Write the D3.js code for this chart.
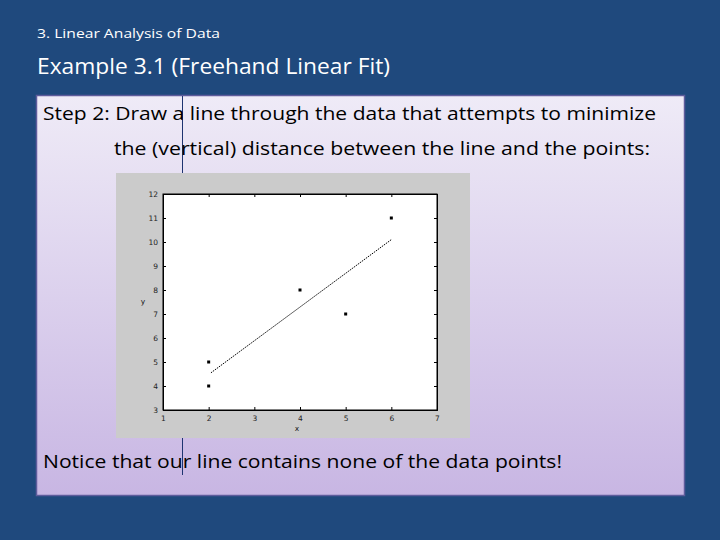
<!DOCTYPE html>
<html><head><meta charset="utf-8">
<script src="https://cdn.jsdelivr.net/npm/d3@7"></script>
<style>html,body{margin:0;padding:0;background:#1F497D;}svg{display:block;}</style>
</head><body>
<svg id="c" width="720" height="540"></svg>
<script>
const xValues = [2, 2, 4, 5, 6];
const yValues = [4, 5, 8, 7, 11];
const fitX = [2.05, 6.0];
const fitY = [4.55, 10.1];
const xTicks = [1, 2, 3, 4, 5, 6, 7];
const yTicks = [3, 4, 5, 6, 7, 8, 9, 10, 11, 12];

const svg = d3.select("#c");
const defs = svg.append("defs");
const g = defs.append("linearGradient").attr("id","bg").attr("x1",0).attr("y1",0).attr("x2",0).attr("y2",1);
g.append("stop").attr("offset","0%").attr("stop-color","#EFEBF7");
g.append("stop").attr("offset","100%").attr("stop-color","#C8B6E3");

svg.append("rect").attr("width",720).attr("height",540).attr("fill","#1F497D");

// header texts
svg.append("text").attr("x",37).attr("y",38).attr("font-family","Open Sans, sans-serif")
  .attr("font-size",13.5).attr("fill","#FFFFFF").attr("textLength",183).attr("lengthAdjust","spacingAndGlyphs")
  .text("3. Linear Analysis of Data");
svg.append("text").attr("x",37).attr("y",74).attr("font-family","Open Sans, sans-serif")
  .attr("font-size",21).attr("fill","#FFFFFF").attr("textLength",353).attr("lengthAdjust","spacingAndGlyphs")
  .text("Example 3.1 (Freehand Linear Fit)");

// content box
svg.append("rect").attr("x",36.5).attr("y",95.5).attr("width",648).attr("height",400)
  .attr("fill","url(#bg)").attr("stroke","#5E5C9C").attr("stroke-width",1.5);

// vertical table-border artifact line (behind the chart image)
svg.append("line").attr("x1",182.5).attr("y1",96).attr("x2",182.5).attr("y2",475)
  .attr("stroke","#1E3470").attr("stroke-width",1);

const bodyFont = "Open Sans, sans-serif";
svg.append("text").attr("x",43).attr("y",120).attr("font-family",bodyFont).attr("font-size",19)
  .attr("fill","#000").attr("textLength",613).attr("lengthAdjust","spacingAndGlyphs")
  .text("Step 2: Draw a line through the data that attempts to minimize");
svg.append("text").attr("x",114).attr("y",155).attr("font-family",bodyFont).attr("font-size",19)
  .attr("fill","#000").attr("textLength",536).attr("lengthAdjust","spacingAndGlyphs")
  .text("the (vertical) distance between the line and the points:");
svg.append("text").attr("x",43).attr("y",468).attr("font-family",bodyFont).attr("font-size",19)
  .attr("fill","#000").attr("textLength",519).attr("lengthAdjust","spacingAndGlyphs")
  .text("Notice that our line contains none of the data points!");

// chart image frame
svg.append("rect").attr("x",116).attr("y",173).attr("width",354).attr("height",265).attr("fill","#CBCBCB");

const L = 163, R = 437, T = 194, B = 410;
const x = d3.scaleLinear().domain([1,7]).range([L,R]);
const y = d3.scaleLinear().domain([3,12]).range([B,T]);

const plot = svg.append("g");
plot.append("rect").attr("x",L).attr("y",T).attr("width",R-L).attr("height",B-T)
  .attr("fill","#FFFFFF").attr("stroke","#000").attr("stroke-width",1);

const axB = plot.append("g").attr("transform",`translate(0,${B})`)
  .call(d3.axisBottom(x).tickValues(xTicks).tickSize(-3).tickPadding(6).tickFormat(d3.format("d")));
const axL = plot.append("g").attr("transform",`translate(${L},0)`)
  .call(d3.axisLeft(y).tickValues(yTicks).tickSize(-3).tickPadding(5).tickFormat(d3.format("d")));
const axT = plot.append("g").attr("transform",`translate(0,${T})`)
  .call(d3.axisTop(x).tickValues(xTicks).tickSize(-3).tickFormat(""));
const axR = plot.append("g").attr("transform",`translate(${R},0)`)
  .call(d3.axisRight(y).tickValues(yTicks).tickSize(-3).tickFormat(""));
[axB,axL,axT,axR].forEach(a=>{
  a.select(".domain").attr("stroke","#000");
  a.selectAll("line").attr("stroke","#000");
  a.selectAll("text").attr("font-family","DejaVu Sans, sans-serif").attr("font-size",7.5).attr("fill","#222");
});

plot.append("text").attr("x",297).attr("y",431).attr("text-anchor","middle")
  .attr("font-family","DejaVu Sans, sans-serif").attr("font-size",7.5).attr("fill","#222").text("x");
plot.append("text").attr("x",143).attr("y",304).attr("text-anchor","middle")
  .attr("font-family","DejaVu Sans, sans-serif").attr("font-size",7.5).attr("fill","#222").text("y");

// freehand line
plot.append("line").attr("x1",x(fitX[0])).attr("y1",y(fitY[0])).attr("x2",x(fitX[1])).attr("y2",y(fitY[1]))
  .attr("stroke","#000").attr("stroke-width",1).attr("stroke-dasharray","1.5,1");

// points
plot.selectAll("rect.pt").data(xValues.map((v,i)=>[v,yValues[i]])).enter().append("rect")
  .attr("class","pt").attr("x",d=>x(d[0])-1.5).attr("y",d=>y(d[1])-1.5)
  .attr("width",3).attr("height",3).attr("fill","#000");
</script>
</body></html>
